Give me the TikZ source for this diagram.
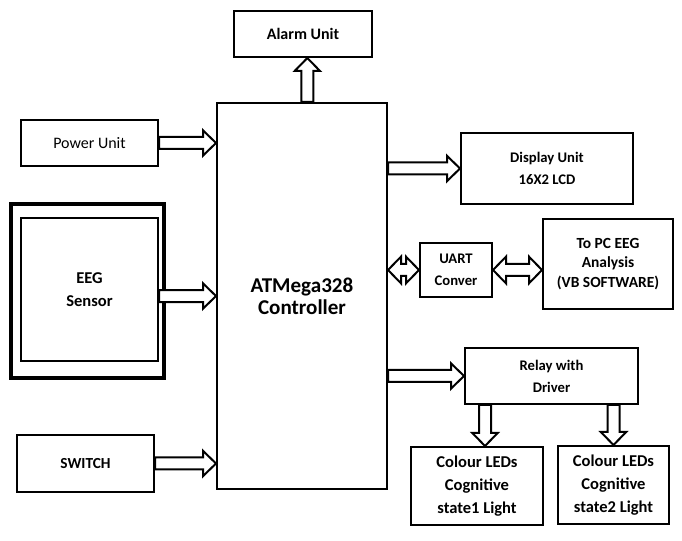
\documentclass[tikz,border=0pt]{standalone}
\usepackage{fontspec}
\setmainfont{Carlito}
\usetikzlibrary{calc, positioning}

\begin{document}
\begin{tikzpicture}[x=0.75pt, y=-0.75pt,
    line width=1.5pt,
    every node/.style={font=\bfseries\fontsize{11}{16.5}\selectfont, align=center},
    block/.style={draw, rectangle, inner sep=2pt},
    blockarrow/.style={draw, fill=white,
      to path={let \p1=(\tikztostart), \p2=(\tikztotarget), \p3=($(\p2)!9.75pt!(\p1)$) in
        ($(\p1)!4.5pt!90:(\p2)$) -- ($(\p3)!4.5pt!90:(\p2)$) -- ($(\p3)!9.5pt!90:(\p2)$) -- (\p2)
        -- ($(\p3)!9.5pt!-90:(\p2)$) -- ($(\p3)!4.5pt!-90:(\p2)$) -- ($(\p1)!4.5pt!-90:(\p2)$) -- cycle}},
    twinarrow/.style={draw, fill=white,
      to path={let \p1=(\tikztostart), \p2=(\tikztotarget), \p3=($(\p2)!9.75pt!(\p1)$), \p4=($(\p1)!9.75pt!(\p2)$) in
        (\p1) -- ($(\p4)!10pt!90:(\p2)$) -- ($(\p4)!4.5pt!90:(\p2)$) -- ($(\p3)!4.5pt!90:(\p2)$)
        -- ($(\p3)!10pt!90:(\p2)$) -- (\p2) -- ($(\p3)!10pt!-90:(\p2)$) -- ($(\p3)!4.5pt!-90:(\p2)$)
        -- ($(\p4)!4.5pt!-90:(\p2)$) -- ($(\p4)!10pt!-90:(\p2)$) -- cycle}},
    bigtext/.style={font=\bfseries\fontsize{12.4}{17}\selectfont}]

    \useasboundingbox (0,0) rectangle (682,541);

    % controller in the middle
    \node[block, minimum width=0.75*170pt, minimum height=0.75*386pt,
          font=\bfseries\fontsize{15.8}{16.4}\selectfont] (ctrl) at (302,296) {ATMega328\\Controller};

    % inputs
    \node[block, minimum width=0.75*137pt, minimum height=0.75*46pt,
          font=\fontsize{12}{15}\selectfont] (power) at (89.5,143) {Power Unit};
    \node[block, line width=3pt, minimum width=0.75*153pt, minimum height=0.75*174pt] (eegframe) at (87.5,291) {};
    \node[block, bigtext, minimum width=0.75*137pt, minimum height=0.75*143pt] (eeg) at (89.5,289.5) {EEG\\Sensor};
    \node[block, minimum width=0.75*137pt, minimum height=0.75*57pt,
          font=\bfseries\fontsize{11.5}{15}\selectfont] (switch) at (85.5,463.5) {SWITCH};

    % outputs
    \node[block, minimum width=0.75*138pt, minimum height=0.75*46pt,
          font=\bfseries\fontsize{12}{15}\selectfont] (alarm) at (303,34) {Alarm Unit};
    \node[block, minimum width=0.75*172pt, minimum height=0.75*71pt] (display) at (547,168.5) {Display Unit\\16X2 LCD};
    \node[block, minimum width=0.75*72pt, minimum height=0.75*54pt] (uart) at (456,270) {UART\\Conver};
    \node[block, minimum width=0.75*130pt, minimum height=0.75*90pt,
          font=\bfseries\fontsize{11.6}{14.5}\selectfont] (pc) at (608,264) {To PC EEG\\Analysis\\(VB SOFTWARE)};
    \node[block, minimum width=0.75*173pt, minimum height=0.75*56pt] (relay) at (551.5,376) {Relay with\\Driver};
    \node[block, bigtext, minimum width=0.75*132pt, minimum height=0.75*78pt] (led1) at (477,486) {Colour LEDs\\Cognitive\\state1 Light};
    \node[block, bigtext, minimum width=0.75*111pt, minimum height=0.75*78pt] (led2) at (613.5,485) {Colour LEDs\\Cognitive\\state2 Light};

    \coordinate (eegout) at ([yshift=-4.9pt]eeg.east);
    \coordinate (alarmin) at ([xshift=4pt]ctrl.north);
    \coordinate (led1in) at ([xshift=6pt]led1.north);

    \draw[blockarrow] (power.east) to (power.east -| ctrl.west);
    \draw[blockarrow] (eegout) to (eegout -| ctrl.west);
    \draw[blockarrow] (switch.east) to (switch.east -| ctrl.west);
    \draw[blockarrow] (alarmin) to (alarmin |- alarm.south);
    \draw[blockarrow] (display.west -| ctrl.east) to (display.west);
    \draw[twinarrow]  (uart.west -| ctrl.east) to (uart.west);
    \draw[twinarrow]  (uart.east) to (uart.east -| pc.west);
    \draw[blockarrow] (relay.west -| ctrl.east) to (relay.west);
    \draw[blockarrow] (led1in |- relay.south) to (led1in);
    \draw[blockarrow] (led2.north |- relay.south) to (led2.north);
\end{tikzpicture}
\end{document}
